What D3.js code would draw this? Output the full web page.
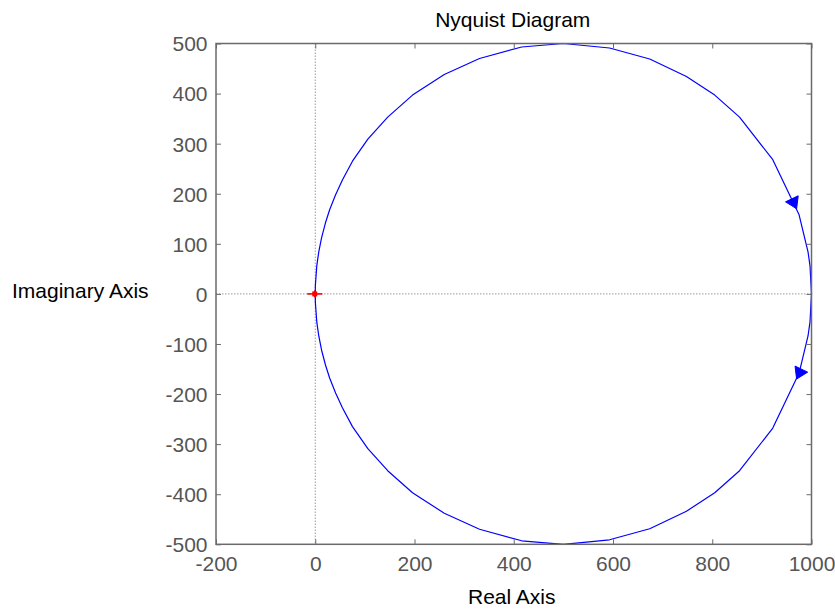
<!DOCTYPE html>
<html>
<head>
<meta charset="utf-8">
<script src="https://cdn.jsdelivr.net/npm/d3@7"></script>
<style>
  html, body { margin: 0; padding: 0; background: #fff; }
  svg { display: block; font-family: "Liberation Sans", Arial, Helvetica, sans-serif; }
</style>
</head>
<body>
<svg id="chart" width="835" height="609"></svg>
<script>
// Frequency response, positive-frequency branch (w = 0 -> inf)
const reValues = [1000, 997, 993, 975, 922, 855, 805, 748, 674, 593, 500, 416, 331, 260, 196, 146, 106, 75, 55, 41, 29, 20.6, 12.7, 7.3, 4.3, 3.0, 0.35, 0.2, 0];
const imValues = [0, -56, -84, -158, -268, -353, -397, -434, -469, -491, -500, -493, -470, -438, -397, -353, -309, -265, -228, -198, -168, -142, -112, -85, -65, -55, -18.6, -15, 0];

// Direction arrows (tip positions on the curve)
const arrowRe = [970, 970];
const arrowIm = [170, -170];

// Critical point
const criticalRe = [-1];
const criticalIm = [0];

// Axis ticks
const xTicks = [-200, 0, 200, 400, 600, 800, 1000];
const yTicks = [-500, -400, -300, -200, -100, 0, 100, 200, 300, 400, 500];

const titleText = "Nyquist Diagram";
const xLabelText = "Real Axis";
const yLabelText = "Imaginary Axis";

const svg = d3.select("#chart");
const plot = { left: 216, right: 811.5, top: 43.5, bottom: 544.3 };

const x = d3.scaleLinear().domain([-200, 1000]).range([plot.left, plot.right]);
const y = d3.scaleLinear().domain([-500, 500]).range([plot.bottom, plot.top]);

const axisColor = "#6a6a6a";
const tickTextColor = "#555";
const fontSize = 21;

// Zero lines (dotted)
svg.append("line")
  .attr("x1", x(0)).attr("x2", x(0))
  .attr("y1", plot.top).attr("y2", plot.bottom)
  .attr("stroke", "#9a9a9a").attr("stroke-width", 1)
  .attr("stroke-dasharray", "1.5,1.5");
svg.append("line")
  .attr("x1", plot.left).attr("x2", plot.right)
  .attr("y1", y(0)).attr("y2", y(0))
  .attr("stroke", "#9a9a9a").attr("stroke-width", 1)
  .attr("stroke-dasharray", "1.5,1.5");

// Full closed contour: negative-frequency branch (mirror) then positive branch
const pos = reValues.map((r, i) => [r, imValues[i]]);
const neg = pos.map(([r, im]) => [r, -im]).reverse();
const contour = neg.concat(pos.slice(1));

const line = d3.line().x(d => x(d[0])).y(d => y(d[1]));
svg.append("path")
  .datum(contour)
  .attr("d", line)
  .attr("fill", "none")
  .attr("stroke", "#0000ff")
  .attr("stroke-width", 1.2)
  .attr("stroke-linejoin", "round");

// Arrowheads oriented along the direction of travel
function arrowAt(re, im) {
  const tip = [x(re), y(im)];
  let best = null, bestD = Infinity;
  for (let i = 0; i < contour.length - 1; i++) {
    const a = [x(contour[i][0]), y(contour[i][1])];
    const b = [x(contour[i + 1][0]), y(contour[i + 1][1])];
    const dx = b[0] - a[0], dy = b[1] - a[1];
    const L2 = dx * dx + dy * dy;
    if (L2 === 0) continue;
    let t = ((tip[0] - a[0]) * dx + (tip[1] - a[1]) * dy) / L2;
    t = Math.max(0, Math.min(1, t));
    const px = a[0] + t * dx, py = a[1] + t * dy;
    const d = Math.hypot(px - tip[0], py - tip[1]);
    if (d < bestD) { bestD = d; best = [dx, dy]; }
  }
  const len = Math.hypot(best[0], best[1]);
  const ux = best[0] / len, uy = best[1] / len;
  const L = 11, W = 7;
  const bx = tip[0] - ux * L, by = tip[1] - uy * L;
  return [[tip[0], tip[1]], [bx - uy * W, by + ux * W], [bx + uy * W, by - ux * W]];
}
arrowRe.forEach((r, i) => {
  svg.append("path")
    .attr("d", d3.line()(arrowAt(r, arrowIm[i])) + "Z")
    .attr("fill", "#0000ff")
    .attr("stroke", "#0000ff")
    .attr("stroke-width", 1);
});

// Critical point marker "+"
criticalRe.forEach((r, i) => {
  const cx = x(r), cy = y(criticalIm[i]);
  const g = svg.append("g").attr("stroke", "#ff0000").attr("stroke-width", 1.6);
  g.append("line").attr("x1", cx - 7.5).attr("x2", cx + 7.5).attr("y1", cy).attr("y2", cy);
  g.append("line").attr("x1", cx).attr("x2", cx).attr("y1", cy - 3.5).attr("y2", cy + 3.5);
  svg.append("rect").attr("x", cx - 2.5).attr("y", cy - 2.5).attr("width", 5).attr("height", 5).attr("fill", "#ff0000");
});

// Axes with inward ticks on all four sides
const fmt = d => String(d);
function styleAxis(g) {
  g.select(".domain").remove();
  g.selectAll(".tick line").attr("stroke", axisColor).attr("stroke-width", 1);
  g.selectAll(".tick text")
    .attr("fill", tickTextColor)
    .attr("font-size", fontSize)
    .attr("font-family", "'Liberation Sans', Arial, Helvetica, sans-serif");
}

svg.append("g")
  .attr("transform", `translate(0,${plot.bottom})`)
  .call(d3.axisBottom(x).tickValues(xTicks).tickFormat(fmt).tickSizeInner(-5).tickSizeOuter(0).tickPadding(12))
  .call(styleAxis);
svg.append("g")
  .attr("transform", `translate(0,${plot.top})`)
  .call(d3.axisTop(x).tickValues(xTicks).tickFormat("").tickSizeInner(-5).tickSizeOuter(0))
  .call(styleAxis);
svg.append("g")
  .attr("transform", `translate(${plot.left},0)`)
  .call(d3.axisLeft(y).tickValues(yTicks).tickFormat(fmt).tickSizeInner(-5).tickSizeOuter(0).tickPadding(8.5))
  .call(styleAxis)
  .selectAll(".tick text").attr("dy", "0.35em");
svg.append("g")
  .attr("transform", `translate(${plot.right},0)`)
  .call(d3.axisRight(y).tickValues(yTicks).tickFormat("").tickSizeInner(-5).tickSizeOuter(0))
  .call(styleAxis);

// Plot box
svg.append("rect")
  .attr("x", plot.left).attr("y", plot.top)
  .attr("width", plot.right - plot.left).attr("height", plot.bottom - plot.top)
  .attr("fill", "none").attr("stroke", axisColor).attr("stroke-width", 1.5);

// Title and axis labels
svg.append("text")
  .attr("x", (plot.left + plot.right) / 2 - 1).attr("y", 27)
  .attr("text-anchor", "middle").attr("font-size", fontSize).attr("fill", "#000")
  .text(titleText);
svg.append("text")
  .attr("x", (plot.left + plot.right) / 2 - 2).attr("y", 604)
  .attr("text-anchor", "middle").attr("font-size", fontSize).attr("fill", "#000")
  .text(xLabelText);
svg.append("text")
  .attr("x", 12).attr("y", 297.5)
  .attr("text-anchor", "start").attr("font-size", fontSize).attr("fill", "#000")
  .text(yLabelText);
</script>
</body>
</html>
